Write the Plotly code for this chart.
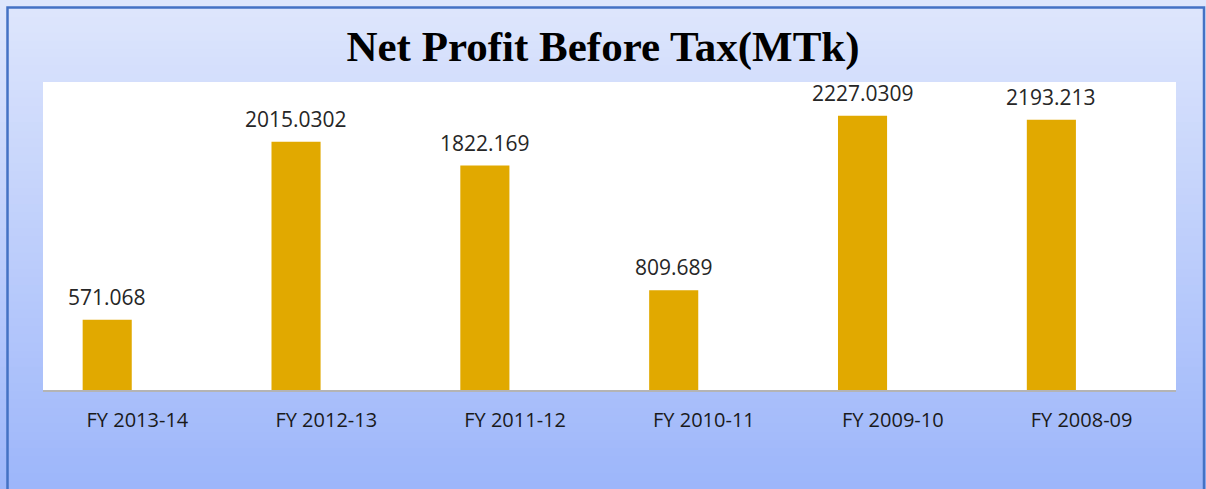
import plotly.graph_objects as go

categories = ["FY 2013-14", "FY 2012-13", "FY 2011-12", "FY 2010-11", "FY 2009-10", "FY 2008-09"]
values = [571.068, 2015.0302, 1822.169, 809.689, 2227.0309, 2193.213]
value_labels = ["571.068", "2015.0302", "1822.169", "809.689", "2227.0309", "2193.213"]

W, H = 1206, 489
ML, MR, MT, MB = 43, 30, 82, 99
pw, ph = W - ML - MR, H - MT - MB

def px2paper_x(px):
    return (px - ML) / pw

def px2paper_y(py):
    return (H - MB - py) / ph

BAR_W, BAR_OFF = 0.26, -0.29
cat_px = pw / len(categories)

fig = go.Figure()
fig.add_trace(go.Bar(
    x=categories, y=values,
    marker=dict(color="#E1A900", line=dict(width=0)),
    width=BAR_W, offset=BAR_OFF,
    hoverinfo="x+y",
))

annotations = []
for c, v, t in zip(categories, values, value_labels):
    annotations.append(dict(x=c, y=v, xref="x", yref="y", text=t, showarrow=False,
                            xanchor="center", yanchor="bottom",
                            xshift=(BAR_OFF + BAR_W / 2) * cat_px, yshift=7,
                            font=dict(family="Open Sans", size=21, color="#262626")))

shapes = []
n = 60
top = (222, 230, 252)
bot = (157, 182, 250)
for i in range(n):
    t = i / (n - 1)
    col = tuple(round(top[k] + (bot[k] - top[k]) * t) for k in range(3))
    y0 = i * H / n
    y1 = (i + 1) * H / n + 1
    shapes.append(dict(type="rect", xref="paper", yref="paper",
                       x0=px2paper_x(0), x1=px2paper_x(W),
                       y0=px2paper_y(y1), y1=px2paper_y(y0),
                       fillcolor="rgb(%d,%d,%d)" % col, line=dict(width=0), layer="below"))
shapes.append(dict(type="rect", xref="paper", yref="paper", x0=0, x1=1, y0=0, y1=1,
                   fillcolor="white", line=dict(width=0), layer="below"))
shapes.append(dict(type="rect", xref="paper", yref="paper",
                   x0=px2paper_x(7.5), x1=px2paper_x(1204), y0=px2paper_y(H + 10), y1=px2paper_y(7.5),
                   fillcolor="rgba(0,0,0,0)", line=dict(color="#4472C4", width=2.5), layer="above"))

fig.update_layout(
    width=W, height=H,
    margin=dict(l=ML, r=MR, t=MT, b=MB),
    paper_bgcolor="#DCE4FC",
    plot_bgcolor="rgba(0,0,0,0)",
    showlegend=False,
    shapes=shapes,
    annotations=annotations,
    title=dict(text="<b>Net Profit Before Tax(MTk)</b>", x=0.5, xanchor="center",
               y=1 - 46 / H, yanchor="middle",
               font=dict(family="Liberation Serif", size=43, color="black")),
    xaxis=dict(showgrid=False, showline=True, linecolor="#B4B4B4", linewidth=2,
               ticks="", ticklabelstandoff=11,
               tickfont=dict(family="Open Sans", size=20, color="#1a1a1a"),
               fixedrange=True),
    yaxis=dict(range=[0, 2500], showgrid=False, showticklabels=False, zeroline=False,
               showline=False, ticks="", fixedrange=True),
)

fig.write_html("out.html", config={"displayModeBar": False},
               post_script="document.body.style.margin='0';document.body.style.overflow='hidden';")
